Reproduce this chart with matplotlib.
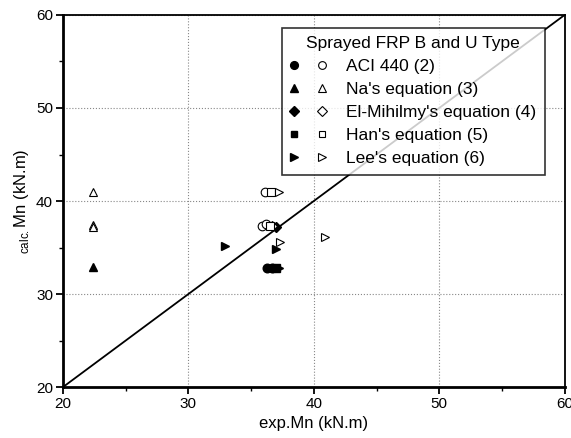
import matplotlib
matplotlib.use("Agg")
import matplotlib.pyplot as plt
from matplotlib.legend_handler import HandlerTuple

plt.rcParams["font.family"] = ["Liberation Sans", "DejaVu Sans"]
plt.rcParams["mathtext.fontset"] = "custom"
plt.rcParams["mathtext.rm"] = "Liberation Sans"

# (exp. Mn, calc. Mn) pairs for each method; filled = B type, hollow = U type
aci_b_x = [36.3, 36.7]
aci_b_y = [32.8, 32.8]
aci_u_x = [36.1, 35.9, 36.2]
aci_u_y = [41.0, 37.3, 37.5]

na_b_x = [22.4]
na_b_y = [32.9]
na_u_x = [22.4, 22.4, 22.4]
na_u_y = [41.0, 37.4, 37.2]

elm_b_x = [37.0]
elm_b_y = [37.2]
elm_u_x = [36.7]
elm_u_y = [37.3]

han_b_x = [37.0]
han_b_y = [32.8]
han_u_x = [36.6, 36.5]
han_u_y = [41.0, 37.3]

lee_b_x = [32.9, 37.0, 37.2]
lee_b_y = [35.2, 34.8, 32.8]
lee_u_x = [37.2, 37.3, 40.9]
lee_u_y = [41.0, 35.6, 36.1]

labels = ["ACI 440 (2)", "Na's equation (3)", "El-Mihilmy's equation (4)",
          "Han's equation (5)", "Lee's equation (6)"]

fig = plt.figure(figsize=(5.71, 4.38), dpi=100)
ax = fig.add_axes([0.110, 0.116, 0.879, 0.850])

# 1:1 reference line
ax.plot([20, 60], [20, 60], color="black", linewidth=1.3, zorder=2)

series = [
    (aci_b_x, aci_b_y, aci_u_x, aci_u_y, "o"),
    (na_b_x, na_b_y, na_u_x, na_u_y, "^"),
    (elm_b_x, elm_b_y, elm_u_x, elm_u_y, "D"),
    (han_b_x, han_b_y, han_u_x, han_u_y, "s"),
    (lee_b_x, lee_b_y, lee_u_x, lee_u_y, ">"),
]
handles = []
for bx, by, ux, uy, m in series:
    ms = 5.2 if m in ("D", "s") else 6.2
    hf, = ax.plot(bx, by, linestyle="None", marker=m, markersize=ms,
                  color="black", zorder=3)
    hu, = ax.plot(ux, uy, linestyle="None", marker=m, markersize=ms,
                  markerfacecolor="white", markeredgecolor="black",
                  markeredgewidth=0.8, zorder=3)
    handles.append((hf, hu))

ax.set_xlim(20, 60)
ax.set_ylim(20, 60)
ax.set_xticks([20, 30, 40, 50, 60])
ax.set_yticks([20, 30, 40, 50, 60])
ax.set_xticks([25, 35, 45, 55], minor=True)
ax.set_yticks([25, 35, 45, 55], minor=True)
ax.grid(True, which="major", linestyle=":", color="#888888", linewidth=0.8)
ax.tick_params(which="major", direction="out", length=5, width=1.3,
               labelsize=11, pad=2)
ax.tick_params(which="minor", direction="out", length=3, width=1.0)

ax.spines["left"].set_linewidth(2.0)
ax.spines["bottom"].set_linewidth(2.0)
ax.spines["top"].set_linewidth(1.3)
ax.spines["right"].set_linewidth(1.3)

ax.set_xlabel("exp.Mn (kN.m)", fontsize=12, labelpad=4)
ax.set_ylabel(r"$_{\mathrm{calc.}}$Mn (kN.m)", fontsize=12, labelpad=4)

leg = ax.legend(handles, labels, title="Sprayed FRP B and U Type",
                handler_map={tuple: HandlerTuple(ndivide=None, pad=1.2)},
                loc="upper right", bbox_to_anchor=(0.96, 0.966),
                fontsize=12.5, title_fontsize=12.5, frameon=True,
                fancybox=False, edgecolor="black", handlelength=2.0,
                handletextpad=1.2, labelspacing=0.45, borderpad=0.5,
                borderaxespad=0.0, markerscale=0.9)
leg.get_frame().set_linewidth(1.2)

fig.savefig("out.png", dpi=100)
